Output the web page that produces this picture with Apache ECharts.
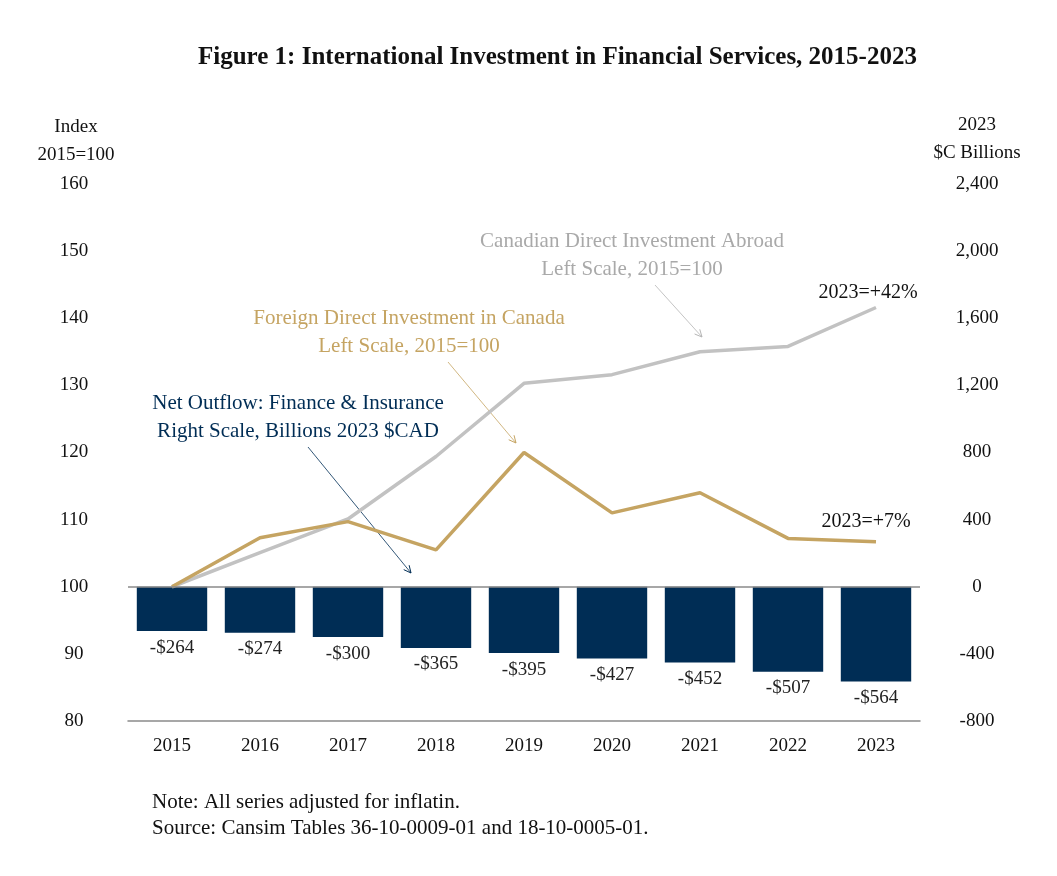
<!DOCTYPE html>
<html>
<head>
<meta charset="utf-8">
<script src="https://cdn.jsdelivr.net/npm/echarts@6/dist/echarts.min.js"></script>
<style>
  html, body { margin: 0; padding: 0; background: #fff; }
  #chart { width: 1057px; height: 876px; }
</style>
</head>
<body>
<div id="chart"></div>
<script>
const years = ['2015', '2016', '2017', '2018', '2019', '2020', '2021', '2022', '2023'];
// index, 2015=100 (left scale)
const cdia = [100, 105.1, 110.1, 119.4, 130.3, 131.6, 135.0, 135.8, 141.6];
const fdi = [100, 107.3, 109.7, 105.5, 120.0, 111.0, 114.0, 107.2, 106.7];
// billions 2023 $CAD (right scale)
const netOutflow = [-264, -274, -300, -365, -395, -427, -452, -507, -564];

const FONT = '"Liberation Serif", "DejaVu Serif", serif';
const NAVY = '#002d55';
const GOLD = '#c5a462';
const GREY = '#c2c2c2';

const chart = echarts.init(document.getElementById('chart'));

function arrow(x1, y1, x2, y2, color) {
  const a = Math.atan2(y2 - y1, x2 - x1);
  const L = 8, w = 0.45;
  return [
    { type: 'line', shape: { x1, y1, x2, y2 }, style: { stroke: color, lineWidth: 0.8 } },
    {
      type: 'polyline',
      shape: { points: [
        [x2 - L * Math.cos(a - w), y2 - L * Math.sin(a - w)],
        [x2, y2],
        [x2 - L * Math.cos(a + w), y2 - L * Math.sin(a + w)]
      ] },
      style: { stroke: color, lineWidth: 1, fill: null }
    }
  ];
}

function label(text, x, y, color, size) {
  return {
    type: 'text', x: x, y: y,
    style: { text: text, fill: color, font: (size || 21) + 'px ' + FONT, align: 'center', verticalAlign: 'middle', lineHeight: 28 }
  };
}

let option = {
  backgroundColor: '#fff',
  animation: false,
  textStyle: { fontFamily: FONT },
  title: {
    text: 'Figure 1: International Investment in Financial Services, 2015-2023',
    left: 193,
    top: 40,
    textStyle: { fontFamily: FONT, fontSize: 25, fontWeight: 'bold', color: '#111' }
  },
  grid: { left: 128, right: 137, top: 184, bottom: 155 },
  xAxis: {
    type: 'category',
    data: years,
    axisLine: { onZero: false, lineStyle: { color: '#8a8a8a', width: 1.5 } },
    axisTick: { show: false },
    axisLabel: { color: '#111', fontSize: 19, margin: 16, fontFamily: FONT }
  },
  yAxis: [
    {
      type: 'value', min: 80, max: 160, interval: 10,
      axisLine: { show: false }, axisTick: { show: false }, splitLine: { show: false },
      axisLabel: { color: '#111', fontSize: 19, align: 'center', margin: 54, fontFamily: FONT }
    },
    {
      type: 'value', min: -800, max: 2400, interval: 400,
      axisLine: { show: false }, axisTick: { show: false }, splitLine: { show: false },
      axisLabel: {
        color: '#111', fontSize: 19, align: 'center', margin: 57, fontFamily: FONT,
        formatter: v => v.toLocaleString('en-US')
      }
    }
  ],
  series: [
    {
      name: 'Net Outflow',
      type: 'bar',
      yAxisIndex: 1,
      data: netOutflow,
      barCategoryGap: '20%',
      itemStyle: { color: NAVY },
      label: {
        show: true, position: 'bottom', distance: 7,
        color: '#222', fontSize: 19, fontFamily: FONT,
        formatter: p => '-$' + Math.abs(p.value)
      },
      markLine: {
        silent: true, symbol: 'none', label: { show: false },
        lineStyle: { color: '#8a8a8a', width: 1.5, type: 'solid' },
        data: [{ yAxis: 0 }]
      },
      z: 2
    },
    {
      name: 'Canadian Direct Investment Abroad',
      type: 'line',
      data: cdia,
      showSymbol: false,
      lineStyle: { color: GREY, width: 3.5 },
      itemStyle: { color: GREY },
      z: 3
    },
    {
      name: 'Foreign Direct Investment in Canada',
      type: 'line',
      data: fdi,
      showSymbol: false,
      lineStyle: { color: GOLD, width: 3.5 },
      itemStyle: { color: GOLD },
      z: 4
    }
  ],
  graphic: [
    label('Index\n2015=100', 76, 141, '#111', 19),
    label('2023\n$C Billions', 977, 139, '#111', 19),
    label('Canadian Direct Investment Abroad\nLeft Scale, 2015=100', 632, 255, '#a9a9a9'),
    label('Foreign Direct Investment in Canada\nLeft Scale, 2015=100', 409, 332, GOLD),
    label('Net Outflow: Finance & Insurance\nRight Scale, Billions 2023 $CAD', 298, 417, NAVY),
    label('2023=+42%', 868, 293, '#111', 20),
    label('2023=+7%', 866, 522, '#111', 20),
    {
      type: 'text', left: 152, top: 789,
      style: {
        text: 'Note: All series adjusted for inflatin.\nSource: Cansim Tables 36-10-0009-01 and 18-10-0005-01.',
        fill: '#111', font: '21px ' + FONT, lineHeight: 26
      }
    },
    ...arrow(655, 285, 702, 337, '#b5b5b5'),
    ...arrow(448, 362, 516, 443, GOLD),
    ...arrow(308, 447, 411, 573, NAVY)
  ]
};

chart.setOption(option);
</script>
</body>
</html>
